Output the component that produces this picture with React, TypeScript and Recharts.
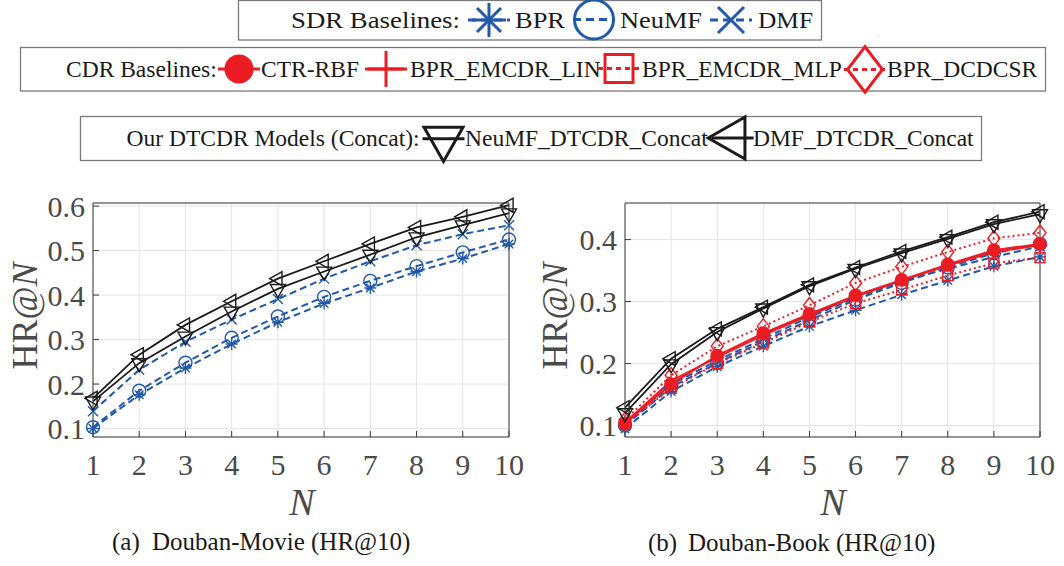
import React from 'react';
import { LineChart, Line, XAxis, YAxis, CartesianGrid, Label } from 'recharts';

const N = [1, 2, 3, 4, 5, 6, 7, 8, 9, 10];

// (a) Douban-Movie, HR@N
const MOVIE_BPR = [0.100, 0.176, 0.236, 0.290, 0.339, 0.381, 0.416, 0.453, 0.482, 0.515];
const MOVIE_NEUMF = [0.103, 0.185, 0.248, 0.304, 0.352, 0.396, 0.432, 0.465, 0.496, 0.525];
const MOVIE_DMF = [0.139, 0.232, 0.295, 0.345, 0.391, 0.437, 0.476, 0.512, 0.537, 0.557];
const MOVIE_NEUMF_DTCDR = [0.161, 0.247, 0.307, 0.363, 0.414, 0.453, 0.491, 0.530, 0.557, 0.584];
const MOVIE_DMF_DTCDR = [0.168, 0.266, 0.333, 0.386, 0.437, 0.476, 0.515, 0.552, 0.576, 0.602];

// (b) Douban-Book, HR@N
const BOOK_BPR = [0.095, 0.155, 0.195, 0.228, 0.260, 0.286, 0.311, 0.334, 0.357, 0.372];
const BOOK_NEUMF = [0.100, 0.162, 0.201, 0.236, 0.270, 0.303, 0.330, 0.355, 0.378, 0.393];
const BOOK_DMF = [0.104, 0.166, 0.205, 0.240, 0.275, 0.306, 0.333, 0.353, 0.372, 0.389];
const BOOK_CTR_RBF = [0.103, 0.167, 0.213, 0.249, 0.280, 0.310, 0.335, 0.360, 0.383, 0.393];
const BOOK_EMCDR_LIN = [0.105, 0.172, 0.210, 0.246, 0.278, 0.308, 0.334, 0.358, 0.380, 0.391];
const BOOK_EMCDR_MLP = [0.102, 0.160, 0.200, 0.233, 0.267, 0.297, 0.319, 0.342, 0.362, 0.371];
const BOOK_DCDCSR = [0.109, 0.181, 0.228, 0.260, 0.294, 0.330, 0.356, 0.380, 0.402, 0.411];
const BOOK_NEUMF_DTCDR = [0.120, 0.199, 0.251, 0.289, 0.325, 0.353, 0.378, 0.401, 0.425, 0.441];
const BOOK_DMF_DTCDR = [0.129, 0.208, 0.256, 0.291, 0.327, 0.355, 0.381, 0.404, 0.428, 0.445];

const MOVIE_Y_TICKS = [0.1, 0.2, 0.3, 0.4, 0.5, 0.6];
const BOOK_Y_TICKS = [0.1, 0.2, 0.3, 0.4];

const BLUE = '#2158a8';
const RED = '#ec1c24';
const BLACK = '#1a1a1a';
const TICK = '#4a4a4a';
const AXIS = '#3a3a3a';
const SERIF = '"Liberation Serif", "Times New Roman", serif';

const movieRows = N.map((n, i) => ({
  n,
  bpr: MOVIE_BPR[i],
  neumf: MOVIE_NEUMF[i],
  dmf: MOVIE_DMF[i],
  neumfDtcdr: MOVIE_NEUMF_DTCDR[i],
  dmfDtcdr: MOVIE_DMF_DTCDR[i],
}));

const bookRows = N.map((n, i) => ({
  n,
  bpr: BOOK_BPR[i],
  neumf: BOOK_NEUMF[i],
  dmf: BOOK_DMF[i],
  ctr: BOOK_CTR_RBF[i],
  lin: BOOK_EMCDR_LIN[i],
  mlp: BOOK_EMCDR_MLP[i],
  dcdcsr: BOOK_DCDCSR[i],
  neumfDtcdr: BOOK_NEUMF_DTCDR[i],
  dmfDtcdr: BOOK_DMF_DTCDR[i],
}));

type Shape = 'asterisk' | 'circle' | 'x' | 'dot' | 'plus' | 'square' | 'diamond' | 'tdown' | 'tleft';
type Style = 'solid' | 'dash' | 'dot';

interface Series {
  key: string;
  name: string;
  color: string;
  style: Style;
  shape: Shape;
  size: number; // marker size in the plot
  legendSize: number;
}

const SERIES: Record<string, Series> = {
  bpr: { key: 'bpr', name: 'BPR', color: BLUE, style: 'dash', shape: 'asterisk', size: 6, legendSize: 17 },
  neumf: { key: 'neumf', name: 'NeuMF', color: BLUE, style: 'dash', shape: 'circle', size: 6.5, legendSize: 19.5 },
  dmf: { key: 'dmf', name: 'DMF', color: BLUE, style: 'dash', shape: 'x', size: 5, legendSize: 13 },
  ctr: { key: 'ctr', name: 'CTR-RBF', color: RED, style: 'solid', shape: 'dot', size: 6.2, legendSize: 13 },
  lin: { key: 'lin', name: 'BPR_EMCDR_LIN', color: RED, style: 'solid', shape: 'plus', size: 7, legendSize: 18 },
  mlp: { key: 'mlp', name: 'BPR_EMCDR_MLP', color: RED, style: 'dot', shape: 'square', size: 5, legendSize: 14 },
  dcdcsr: { key: 'dcdcsr', name: 'BPR_DCDCSR', color: RED, style: 'dot', shape: 'diamond', size: 6, legendSize: 17.5 },
  neumfDtcdr: { key: 'neumfDtcdr', name: 'NeuMF_DTCDR_Concat', color: BLACK, style: 'solid', shape: 'tdown', size: 7.5, legendSize: 19.5 },
  dmfDtcdr: { key: 'dmfDtcdr', name: 'DMF_DTCDR_Concat', color: BLACK, style: 'solid', shape: 'tleft', size: 7, legendSize: 21 },
};

const MOVIE_LINES = ['bpr', 'neumf', 'dmf', 'neumfDtcdr', 'dmfDtcdr'];
const BOOK_LINES = ['bpr', 'neumf', 'dmf', 'ctr', 'lin', 'mlp', 'dcdcsr', 'neumfDtcdr', 'dmfDtcdr'];

function plotDash(style: Style) {
  if (style === 'dash') return '7 4';
  if (style === 'dot') return '2 3';
  return undefined;
}

function legendDash(style: Style) {
  if (style === 'dash') return '8 5';
  if (style === 'dot') return '5 4';
  return undefined;
}

function Marker({ shape, cx, cy, s, color, sw }: { shape: Shape; cx: number; cy: number; s: number; color: string; sw: number }) {
  const common = { stroke: color, strokeWidth: sw, fill: 'none' };
  switch (shape) {
    case 'asterisk': {
      const d = s * 0.707;
      return (
        <g {...common}>
          <line x1={cx - s} y1={cy} x2={cx + s} y2={cy} />
          <line x1={cx} y1={cy - s} x2={cx} y2={cy + s} />
          <line x1={cx - d} y1={cy - d} x2={cx + d} y2={cy + d} />
          <line x1={cx - d} y1={cy + d} x2={cx + d} y2={cy - d} />
        </g>
      );
    }
    case 'circle':
      return <circle cx={cx} cy={cy} r={s} {...common} />;
    case 'x':
      return (
        <g {...common}>
          <line x1={cx - s} y1={cy - s} x2={cx + s} y2={cy + s} />
          <line x1={cx - s} y1={cy + s} x2={cx + s} y2={cy - s} />
        </g>
      );
    case 'dot':
      return <circle cx={cx} cy={cy} r={s} fill={color} stroke={color} strokeWidth={sw} />;
    case 'plus':
      return (
        <g {...common}>
          <line x1={cx - s} y1={cy} x2={cx + s} y2={cy} />
          <line x1={cx} y1={cy - s} x2={cx} y2={cy + s} />
        </g>
      );
    case 'square':
      return <rect x={cx - s} y={cy - s} width={2 * s} height={2 * s} {...common} />;
    case 'diamond': {
      const h = s * 1.3;
      return <polygon points={`${cx},${cy - h} ${cx + s},${cy} ${cx},${cy + h} ${cx - s},${cy}`} {...common} />;
    }
    case 'tdown': {
      const h = s * 1.75;
      return <polygon points={`${cx - s},${cy - h / 3} ${cx + s},${cy - h / 3} ${cx},${cy + (2 * h) / 3}`} {...common} />;
    }
    case 'tleft': {
      const w = s * 1.75;
      return <polygon points={`${cx - (2 * w) / 3},${cy} ${cx + w / 3},${cy - s} ${cx + w / 3},${cy + s}`} {...common} />;
    }
  }
  return null;
}

const CHART_H = 345;

function Panel({
  rows,
  lineKeys,
  yDomain,
  yTicks,
  width,
  margin,
  nLabelX,
}: {
  rows: any[];
  lineKeys: string[];
  yDomain: [number, number];
  yTicks: number[];
  width: number;
  margin: { top: number; right: number; bottom: number; left: number };
  nLabelX: number;
}) {
  const tickStyle = { fill: TICK, fontSize: 30, fontFamily: SERIF };
  return (
    <LineChart width={width} height={CHART_H} data={rows} margin={margin}>
      <CartesianGrid stroke="#e4e4e4" strokeWidth={1} />
      <XAxis
        dataKey="n"
        type="number"
        domain={[1, 10]}
        ticks={N}
        interval={0}
        tick={tickStyle}
        tickSize={-6}
        tickMargin={23}
        stroke={AXIS}
        height={40}
      >
        <Label
          content={() => (
            <text x={nLabelX} y={335} textAnchor="middle" fontFamily={SERIF} fontSize={38} fontStyle="italic" fill={TICK}>
              N
            </text>
          )}
        />
      </XAxis>
      <XAxis
        xAxisId="top"
        orientation="top"
        dataKey="n"
        type="number"
        domain={[1, 10]}
        ticks={N}
        interval={0}
        tick={false}
        tickSize={-6}
        stroke={AXIS}
        height={1}
      />
      <YAxis
        type="number"
        domain={yDomain}
        ticks={yTicks}
        interval={0}
        tick={tickStyle}
        tickFormatter={(v: number) => v.toFixed(1)}
        tickSize={-6}
        tickMargin={14}
        stroke={AXIS}
        width={60}
      >
        <Label
          content={() => (
            <text
              x={37}
              y={136}
              transform="rotate(-90 37 136)"
              textAnchor="middle"
              fontFamily={SERIF}
              fontSize={36}
              fill={TICK}
            >
              HR@<tspan fontStyle="italic">N</tspan>
            </text>
          )}
        />
      </YAxis>
      <YAxis
        yAxisId="right"
        orientation="right"
        type="number"
        domain={yDomain}
        ticks={yTicks}
        interval={0}
        tick={false}
        tickSize={-6}
        stroke={AXIS}
        width={1}
      />
      {lineKeys.map((k) => {
        const s = SERIES[k];
        return (
          <Line
            key={k}
            type="linear"
            dataKey={k}
            stroke={s.color}
            strokeWidth={s.color === BLACK ? 1.8 : 2}
            strokeDasharray={plotDash(s.style)}
            isAnimationActive={false}
            activeDot={false}
            dot={(p: any) => (
              <Marker key={`${k}-${p.index}`} shape={s.shape} cx={p.cx} cy={p.cy} s={s.size} color={s.color} sw={1.4} />
            )}
          />
        );
      })}
    </LineChart>
  );
}

function LegendItem({ k, cx, cy, tx, ty, tw }: { k: string; cx: number; cy: number; tx: number; ty: number; tw?: number }) {
  const s = SERIES[k];
  return (
    <g>
      <line
        x1={cx - 21}
        y1={cy}
        x2={cx + 21}
        y2={cy}
        stroke={s.color}
        strokeWidth={3}
        strokeDasharray={legendDash(s.style)}
      />
      <Marker shape={s.shape} cx={cx} cy={cy} s={s.legendSize} color={s.color} sw={3} />
      <text
        x={tx}
        y={ty}
        fontFamily={SERIF}
        fontSize={23.5}
        fill="#1a1a1a"
        textLength={tw}
        lengthAdjust={tw ? 'spacingAndGlyphs' : undefined}
      >
        {s.name}
      </text>
    </g>
  );
}

export default function App() {
  return (
    <div style={{ position: 'absolute', left: 0, top: 0, width: 1064, height: 566, background: '#fff', overflow: 'hidden' }}>
      <div style={{ position: 'absolute', left: 0, top: 180 }}>
        <Panel
          rows={movieRows}
          lineKeys={MOVIE_LINES}
          yDomain={[0.081, 0.607]}
          yTicks={MOVIE_Y_TICKS}
          width={530}
          margin={{ top: 22, right: 20, bottom: 48, left: 33 }}
          nLabelX={302}
        />
      </div>
      <div style={{ position: 'absolute', left: 530, top: 180 }}>
        <Panel
          rows={bookRows}
          lineKeys={BOOK_LINES}
          yDomain={[0.0816, 0.459]}
          yTicks={BOOK_Y_TICKS}
          width={534}
          margin={{ top: 22, right: 23, bottom: 48, left: 35 }}
          nLabelX={303}
        />
      </div>
      <svg width={1064} height={566} style={{ position: 'absolute', left: 0, top: 0, pointerEvents: 'none' }}>
        <rect x={238.5} y={0.5} width={583} height={39.5} fill="#fff" stroke="#7a7a7a" strokeWidth={1.3} />
        <text x={291} y={27.5} fontFamily={SERIF} fontSize={23.5} fill="#1a1a1a" textLength={169} lengthAdjust="spacingAndGlyphs">
          SDR Baselines:
        </text>
        <LegendItem k="bpr" cx={489} cy={20} tx={515} ty={27.5} tw={50} />
        <LegendItem k="neumf" cx={594} cy={19.5} tx={620} ty={27.5} tw={82} />
        <LegendItem k="dmf" cx={731} cy={20} tx={758} ty={27.5} tw={55} />

        <rect x={20.5} y={47.5} width={1025} height={43.5} fill="#fff" stroke="#7a7a7a" strokeWidth={1.3} />
        <text x={66} y={77.3} fontFamily={SERIF} fontSize={23.5} fill="#1a1a1a">CDR Baselines:</text>
        <LegendItem k="ctr" cx={239} cy={69} tx={261} ty={77.3} />
        <LegendItem k="lin" cx={386} cy={69} tx={410} ty={77.3} />
        <LegendItem k="mlp" cx={619} cy={68.5} tx={642} ty={77.3} />
        <LegendItem k="dcdcsr" cx={865} cy={69.5} tx={887} ty={77.3} />

        <rect x={80.5} y={116.5} width={901} height={44} fill="#fff" stroke="#7a7a7a" strokeWidth={1.3} />
        <text x={126.5} y={146} fontFamily={SERIF} fontSize={23.5} fill="#1a1a1a">Our DTCDR Models (Concat):</text>
        <LegendItem k="neumfDtcdr" cx={443.5} cy={138.7} tx={465} ty={146} />
        <LegendItem k="dmfDtcdr" cx={732.7} cy={138} tx={753} ty={146} />

        <text x={112} y={550} fontFamily={SERIF} fontSize={25} fill="#1a1a1a">(a)</text>
        <text x={152} y={550} fontFamily={SERIF} fontSize={25} fill="#1a1a1a">Douban-Movie (HR@10)</text>
        <text x={648} y={551} fontFamily={SERIF} fontSize={25} fill="#1a1a1a">(b)</text>
        <text x={688} y={551} fontFamily={SERIF} fontSize={25} fill="#1a1a1a">Douban-Book (HR@10)</text>
      </svg>
    </div>
  );
}
